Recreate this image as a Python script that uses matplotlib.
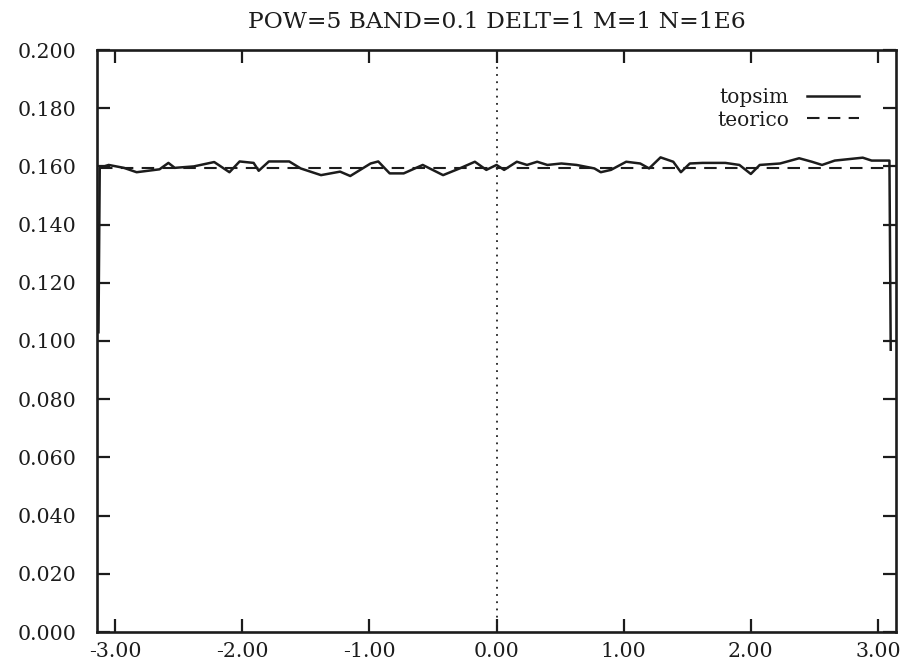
import matplotlib
matplotlib.use("Agg")
import matplotlib.pyplot as plt
import numpy as np

title = "POW=5 BAND=0.1 DELT=1 M=1 N=1E6"

# topsim simulated density
topsim_x = [-3.13, -3.12, -3.05, -2.93, -2.83, -2.65, -2.58, -2.53, -2.38, -2.22,
            -2.10, -2.02, -1.91, -1.87, -1.79, -1.63, -1.54, -1.38, -1.23, -1.15,
            -0.99, -0.93, -0.84, -0.73, -0.58, -0.42, -0.29, -0.17, -0.08, 0.00,
            0.06, 0.16, 0.24, 0.32, 0.40, 0.51, 0.63, 0.77, 0.82, 0.90,
            1.02, 1.13, 1.20, 1.29, 1.39, 1.45, 1.52, 1.62, 1.80, 1.91,
            2.00, 2.07, 2.23, 2.38, 2.48, 2.56, 2.66, 2.88, 2.95, 3.09, 3.10]
topsim_y = [0.103, 0.1595, 0.1605, 0.1595, 0.1580, 0.1590, 0.1612, 0.1595, 0.1600, 0.1615,
            0.1580, 0.1617, 0.1612, 0.1585, 0.1617, 0.1617, 0.1593, 0.1570, 0.1582, 0.1567,
            0.1610, 0.1617, 0.1576, 0.1576, 0.1605, 0.1570, 0.1593, 0.1616, 0.1588, 0.1605,
            0.1588, 0.1616, 0.1605, 0.1616, 0.1605, 0.1610, 0.1605, 0.1593, 0.1580, 0.1588,
            0.1616, 0.1610, 0.1593, 0.1631, 0.1616, 0.1580, 0.1610, 0.1612, 0.1612, 0.1605,
            0.1574, 0.1605, 0.1610, 0.1628, 0.1616, 0.1605, 0.1620, 0.1630, 0.1620, 0.1620, 0.097]

# theoretical density
teorico_x = [-3.12, 3.10]
teorico_y = [0.1595, 0.1595]

x_ticks = [-3, -2, -1, 0, 1, 2, 3]
x_labels = ["-3.00", "-2.00", "-1.00", "0.00", "1.00", "2.00", "3.00"]
y_ticks = [0.0, 0.02, 0.04, 0.06, 0.08, 0.10, 0.12, 0.14, 0.16, 0.18, 0.20]
y_labels = ["0.000", "0.020", "0.040", "0.060", "0.080", "0.100",
            "0.120", "0.140", "0.160", "0.180", "0.200"]

plt.rcParams['font.family'] = ['DejaVu Serif']

fig = plt.figure(figsize=(9.08, 6.68), dpi=100)
ax = fig.add_axes([97/908, 1 - 632/668, (896 - 97)/908, (632 - 50)/668])

ink = "#1c1c1c"
ax.plot(topsim_x, topsim_y, color=ink, lw=1.8, label="topsim")
ax.plot(teorico_x, teorico_y, color=ink, lw=1.5, ls=(0, (6, 4)), label="teorico")
ax.axvline(0, color="#222222", lw=1.3, ls=(0, (1, 3)))

ax.set_xlim(-np.pi, np.pi)
ax.set_ylim(0, 0.2)
ax.set_xticks(x_ticks)
ax.set_xticklabels(x_labels, fontsize=14.8)
ax.set_yticks(y_ticks)
ax.set_yticklabels(y_labels, fontsize=14.8)
ax.tick_params(direction="in", length=9.5, width=1.6, top=True, right=True,
               color=ink, labelcolor=ink)
ax.tick_params(axis="y", pad=15)
ax.tick_params(axis="x", pad=7)
for s in ax.spines.values():
    s.set_linewidth(1.9)
    s.set_color(ink)

ax.set_title(title, fontsize=16.8, pad=16, color=ink)
leg = ax.legend(loc="upper right", frameon=False, markerfirst=False,
                fontsize=14.5, handlelength=2.6, labelspacing=0.15,
                bbox_to_anchor=(0.977, 0.965), handletextpad=0.9)
for t in leg.get_texts():
    t.set_color(ink)

fig.savefig("out.png", dpi=100, facecolor="white")
